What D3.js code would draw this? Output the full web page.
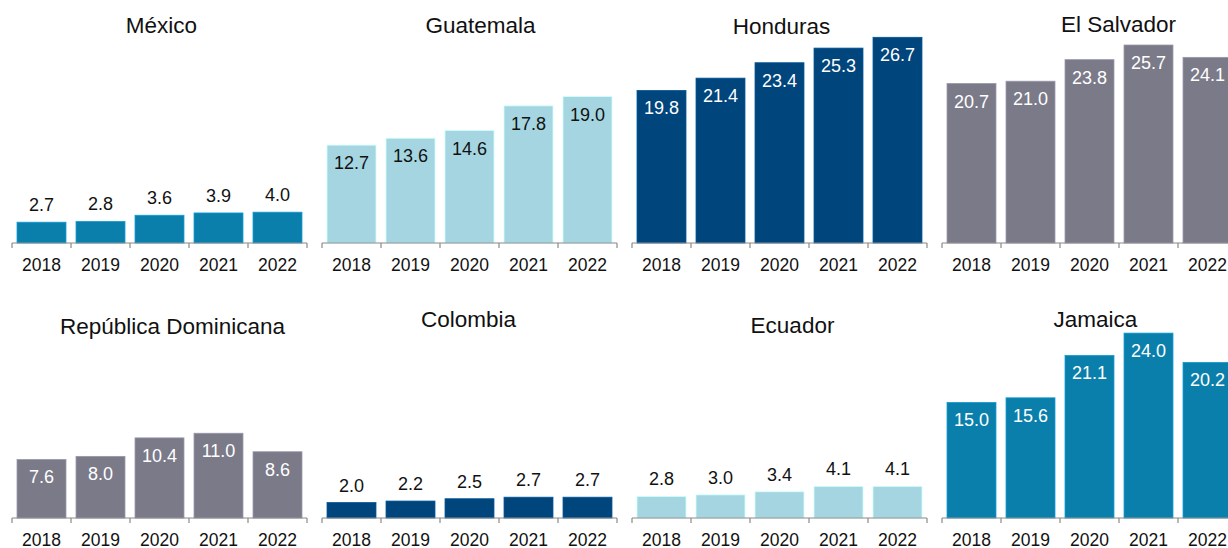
<!DOCTYPE html>
<html>
<head>
<meta charset="utf-8">
<script src="https://cdn.jsdelivr.net/npm/d3@7"></script>
<style>
  html, body { margin: 0; padding: 0; background: #fff; overflow: hidden; }
  svg { display: block; font-family: "Liberation Sans", Arial, sans-serif; }
</style>
</head>
<body>
<div id="chart"></div>
<script>
// data
const years = ["2018", "2019", "2020", "2021", "2022"];
const countries = ["México", "Guatemala", "Honduras", "El Salvador",
                   "República Dominicana", "Colombia", "Ecuador", "Jamaica"];
const mexico     = [2.7, 2.8, 3.6, 3.9, 4.0];
const guatemala  = [12.7, 13.6, 14.6, 17.8, 19.0];
const honduras   = [19.8, 21.4, 23.4, 25.3, 26.7];
const elSalvador = [20.7, 21.0, 23.8, 25.7, 24.1];
const repDom     = [7.6, 8.0, 10.4, 11.0, 8.6];
const colombia   = [2.0, 2.2, 2.5, 2.7, 2.7];
const ecuador    = [2.8, 3.0, 3.4, 4.1, 4.1];
const jamaica    = [15.0, 15.6, 21.1, 24.0, 20.2];
const seriesValues = [mexico, guatemala, honduras, elSalvador, repDom, colombia, ecuador, jamaica];
const barColors = ["#0b7fab", "#a4d5e0", "#00457c", "#7b7a89",
                   "#7b7a89", "#00457c", "#a4d5e0", "#0b7fab"];

// layout
const W = 1228, H = 548;
const panelW = 295, panelStep = 310, left0 = 12;
const rowAxisY = [243, 518];
const plotH = 208;                       // height for 27 units
const titleDx = [2, 11, 2, 29, 13, -1, 13, 6];
const titleY  = [33, 33, 34, 32, 334, 327, 333, 327];

const svg = d3.select("#chart").append("svg")
  .attr("width", W).attr("height", H);

const x = d3.scaleBand().domain(years).range([0, panelW])
  .paddingInner(0.17).paddingOuter(0.085);
const y = d3.scaleLinear().domain([0, 27]).range([plotH, 0]);

countries.forEach((name, i) => {
  const col = i % 4, row = Math.floor(i / 4);
  const g = svg.append("g")
    .attr("transform", `translate(${left0 + col * panelStep},${rowAxisY[row] - plotH})`);
  const vals = seriesValues[i];
  const data = years.map((yr, k) => ({ yr, v: vals[k] }));
  const color = barColors[i];
  const light = d3.hsl(color).l > 0.7;

  g.append("text")
    .attr("x", panelW / 2 + titleDx[i])
    .attr("y", titleY[i] - (rowAxisY[row] - plotH))
    .attr("text-anchor", "middle")
    .attr("font-size", 22.5)
    .attr("fill", "#111")
    .text(name);

  g.selectAll("rect").data(data).enter().append("rect")
    .attr("x", d => x(d.yr))
    .attr("y", d => y(d.v))
    .attr("width", x.bandwidth())
    .attr("height", d => plotH - y(d.v))
    .attr("fill", color)
    .attr("stroke", d3.color(color).brighter(0.6))
    .attr("stroke-width", 0.8);

  g.selectAll(".val").data(data).enter().append("text")
    .attr("class", "val")
    .attr("x", d => x(d.yr) + x.bandwidth() / 2)
    .attr("y", d => d.v > 5 ? y(d.v) + 24 : y(d.v) - 11)
    .attr("text-anchor", "middle")
    .attr("font-size", 18)
    .attr("fill", d => d.v > 5 ? (light ? "#111" : "#fff") : "#111")
    .text(d => d3.format(".1f")(d.v));

  // axis
  const ax = g.append("g").attr("transform", `translate(0,${plotH})`);
  ax.append("line").attr("x1", 0).attr("x2", panelW)
    .attr("stroke", "#8a8a8a").attr("stroke-width", 1.2);
  const edges = years.map(yr => x(yr) - x.step() * x.paddingInner() / 2).concat([panelW]);
  edges[0] = 0;
  ax.selectAll(".tk").data(edges).enter().append("line")
    .attr("x1", d => d).attr("x2", d => d)
    .attr("y1", 0).attr("y2", 5)
    .attr("stroke", "#8a8a8a").attr("stroke-width", 1.2);
  ax.selectAll(".yr").data(years).enter().append("text")
    .attr("x", d => x(d) + x.bandwidth() / 2)
    .attr("y", 28)
    .attr("text-anchor", "middle")
    .attr("font-size", 17.5)
    .attr("fill", "#111")
    .text(d => d);
});
</script>
</body>
</html>
